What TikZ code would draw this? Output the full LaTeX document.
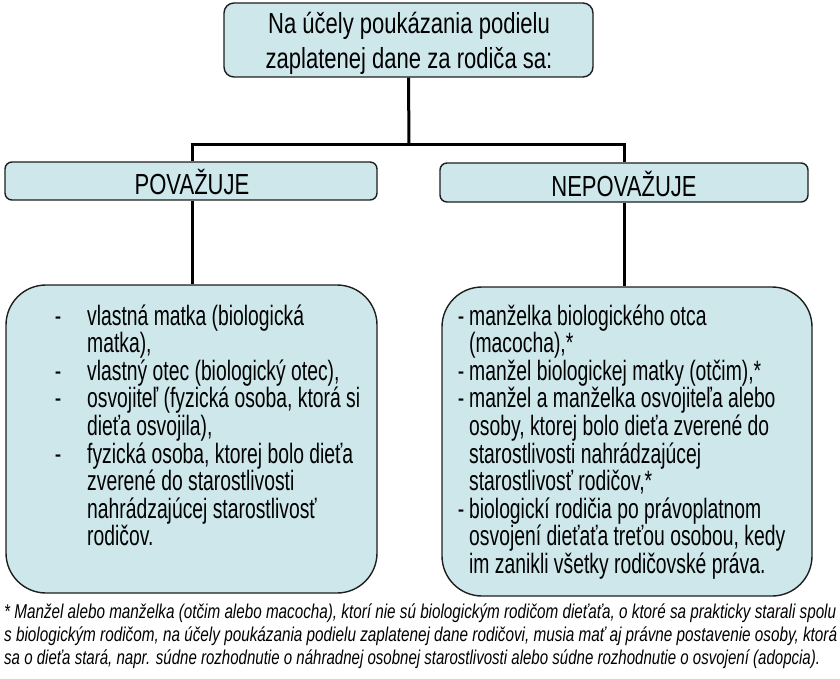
\documentclass[tikz,border=0pt]{standalone}
\usepackage{fontspec}
\usepackage{graphicx}
\setmainfont{Liberation Sans}
\newfontfamily\headfont[FakeStretch=0.76]{Liberation Sans}
\newfontfamily\listfont[FakeStretch=0.69]{Liberation Sans}
\newfontfamily\notefont{Liberation Sans}
\definecolor{boxfill}{RGB}{205,231,235}
\definecolor{boxline}{RGB}{30,30,30}
\tikzset{
  panel/.style={draw=boxline, line width=1.4pt, fill=boxfill, inner sep=0pt},
  conn/.style={draw=black, line width=3pt},
  headtext/.style={inner sep=0pt, align=center, font=\headfont\fontsize{29}{35}\selectfont},
  listtext/.style={inner sep=0pt, align=left, anchor=base west, font=\listfont\fontsize{28}{27.6}\selectfont},
  notetext/.style={inner sep=0pt, anchor=base west, font=\notefont\itshape\fontsize{20}{22}\selectfont}
}
\begin{document}
\begin{tikzpicture}[x=1pt,y=-1pt]
\useasboundingbox (0,0) rectangle (840,679);
% boxes
\node[panel, minimum width=369pt, minimum height=74pt, rounded corners=10pt] (top) at (408.5,40) {};
\node[panel, minimum width=372pt, minimum height=38pt, rounded corners=7pt] (lmid) at (191,181) {};
\node[panel, minimum width=368pt, minimum height=39pt, rounded corners=7pt] (rmid) at (624,182.5) {};
\node[panel, minimum width=371pt, minimum height=308pt, rounded corners=40pt] (lbot) at (191.5,439) {};
\node[panel, minimum width=370pt, minimum height=309pt, rounded corners=40pt] (rbot) at (627,441.5) {};
% connectors
\coordinate (j) at (409,145);
\coordinate (jl) at (192,145);
\coordinate (jr) at (624,145);
\draw[conn] (top.south) -- (j);
\draw[conn] ([xshift=-1.5pt]jl) -- ([xshift=1.5pt]jr);
\draw[conn] (jl) -- (jl |- lmid.north);
\draw[conn] (jr) -- (jr |- rmid.north);
\draw[conn] (jl |- lmid.south) -- (jl |- lbot.north);
\draw[conn] (jr |- rmid.south) -- (jr |- rbot.north);
% texts
\node[headtext] (toptext) at (409,43) {Na účely poukázania podielu\\zaplatenej dane za rodiča sa:};
\node[headtext] (lmidtext) at (192,182) {POVAŽUJE};
\node[headtext] (rmidtext) at (624,183.5) {NEPOVAŽUJE};
\node[listtext] (llist) at (87,545.8) {%
\llap{-\hspace{26pt}}vlastná matka (biologická\\
matka),\\
\llap{-\hspace{26pt}}vlastný otec (biologický otec),\\
\llap{-\hspace{26pt}}osvojiteľ (fyzická osoba, ktorá si\\
dieťa osvojila),\\
\llap{-\hspace{26pt}}fyzická osoba, ktorej bolo dieťa\\
zverené do starostlivosti\\
nahrádzajúcej starostlivosť\\
rodičov.};
\node[listtext] (rlist) at (469,573.4) {%
\llap{-\hspace{5pt}}manželka biologického otca\\
(macocha),*\\
\llap{-\hspace{5pt}}manžel biologickej matky (otčim),*\\
\llap{-\hspace{5pt}}manžel a manželka osvojiteľa alebo\\
osoby, ktorej bolo dieťa zverené do\\
starostlivosti nahrádzajúcej\\
starostlivosť rodičov,*\\
\llap{-\hspace{5pt}}biologickí rodičia po právoplatnom\\
osvojení dieťaťa treťou osobou, kedy\\
im zanikli všetky rodičovské práva.};
% footnote
\node[notetext] (fn1) at (4,618) {\resizebox{832pt}{\height}{* Manžel alebo manželka (otčim alebo macocha), ktorí nie sú biologickým rodičom dieťaťa, o ktoré sa prakticky starali spolu}};
\node[notetext] (fn2) at (4,641) {\resizebox{833pt}{\height}{s biologickým rodičom, na účely poukázania podielu zaplatenej dane rodičovi, musia mať aj právne postavenie osoby, ktorá}};
\node[notetext] (fn3) at (4,664) {\resizebox{816pt}{\height}{sa o dieťa stará, napr. súdne rozhodnutie o náhradnej osobnej starostlivosti alebo súdne rozhodnutie o osvojení (adopcia).}};
\end{tikzpicture}
\end{document}
